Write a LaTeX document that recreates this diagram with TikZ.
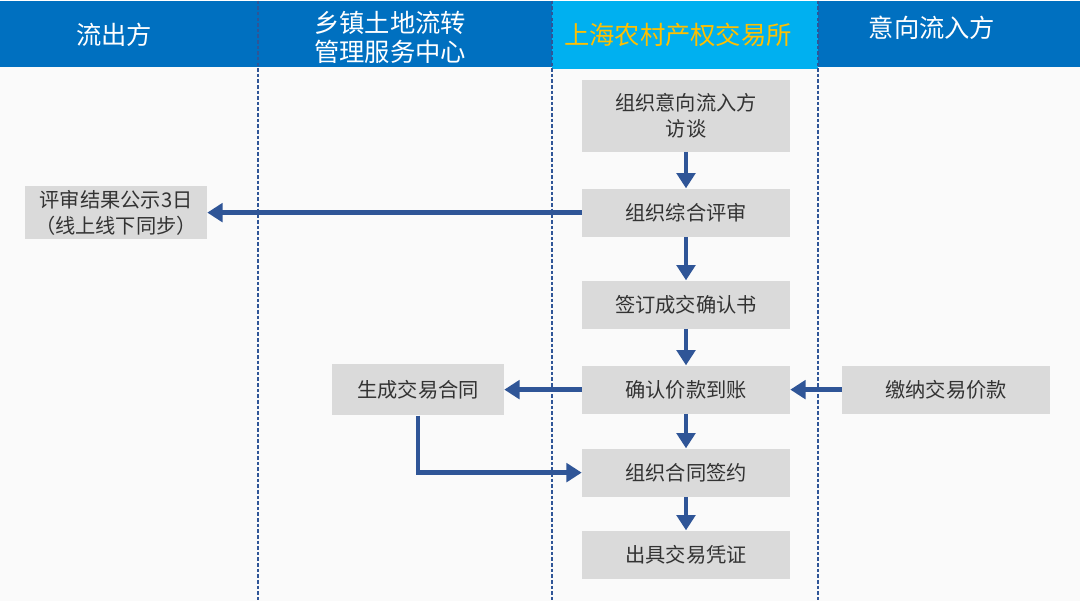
\documentclass[tikz,border=0pt]{standalone}
\usepackage{fontspec}
\setmainfont{Noto Sans CJK SC}
\usetikzlibrary{arrows.meta,positioning}

\definecolor{hdrblue}{HTML}{0070C0}
\definecolor{hdrcyan}{HTML}{00B0F0}
\definecolor{hdrgold}{HTML}{FFC000}
\definecolor{flowblue}{HTML}{2F5597}
\definecolor{boxgray}{HTML}{DADADA}
\definecolor{pagebg}{HTML}{FAFAFA}

\begin{document}
\begin{tikzpicture}[
  x=0.025cm, y=-0.025cm,
  font=\fontsize{14.4}{18.5}\selectfont,
  head/.style={
    text=white,
    align=center,
    font=\fontsize{18}{20.6}\selectfont
  },
  box/.style={
    fill=boxgray,
    text=black!80,
    align=center,
    minimum width=5.2cm,
    minimum height=1.2cm,
    inner sep=2pt
  },
  lane/.style={draw=flowblue, dash pattern=on 2.5pt off 1.5pt, line width=0.9pt},
  flow/.style={-{Triangle[length=3.8mm, width=4.6mm]}, draw=flowblue, line width=3.2pt}
]

% page and header bar
\fill[pagebg] (0,0) rectangle (1080,600);
\fill[hdrblue] (0,0) rectangle (1080,66);
\fill[hdrcyan] (552,0) rectangle (818,68);

\node[head] (outflow) at (114,34) {流出方};
\node[head] (township) at (390,37) {乡镇土地流转\\管理服务中心};
\node[head, text=hdrgold] (exchange) at (678,34) {上海农村产权交易所};
\node[head] (inflow) at (932,27) {意向流入方};

% swim lanes
\draw[lane] (258,0) -- (258,600);
\draw[lane] (552,0) -- (552,600);
\draw[lane] (818,0) -- (818,600);

% exchange column
\node[box, minimum height=1.8cm] (interview) at (686,115) {组织意向流入方\\访谈};
\node[box] (review) at (686,212) {组织综合评审};
\node[box] (confirm) at (686,304) {签订成交确认书};
\node[box] (payment) at (686,389) {确认价款到账};
\node[box] (signing) at (686,472) {组织合同签约};
\node[box] (voucher) at (686,554) {出具交易凭证};

% side boxes
\node[box, minimum width=4.55cm, minimum height=1.32cm] (publicity) at (116,212) {评审结果公示3日\\（线上线下同步）};
\node[box, minimum width=4.3cm, minimum height=1.28cm] (contract) at (418,389) {生成交易合同};
\node[box] (deposit) at (946,389) {缴纳交易价款};

\draw[flow] (interview) -- (review);
\draw[flow] (review) -- (confirm);
\draw[flow] (confirm) -- (payment);
\draw[flow] (payment) -- (signing);
\draw[flow] (signing) -- (voucher);
\draw[flow] (review) -- (publicity);
\draw[flow] (payment) -- (contract);
\draw[flow] (deposit) -- (payment);
\draw[flow] (contract.south) |- (signing.west);

\end{tikzpicture}
\end{document}
